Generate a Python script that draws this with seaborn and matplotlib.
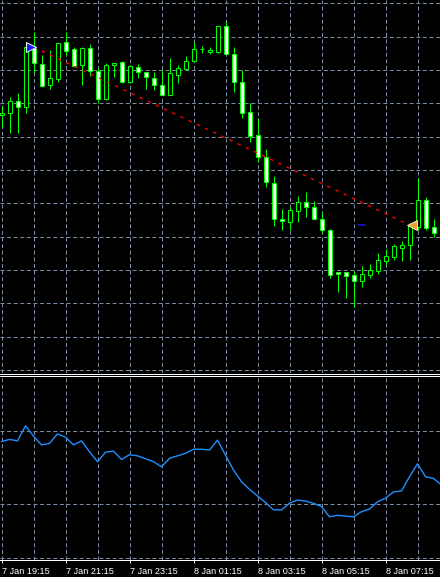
import matplotlib
matplotlib.use("Agg")
import matplotlib.pyplot as plt
import matplotlib.transforms as mtransforms
from matplotlib.lines import Line2D
import numpy as np
import pandas as pd
import seaborn as sns

# ── Data (M15 bars, bar 0 = 7 Jan 19:15) ───────────────────────────────────────
opens = [1.30765, 1.30771, 1.30807, 1.30789, 1.30969, 1.30918, 1.30855, 1.30873,
         1.30984, 1.30963, 1.30915, 1.30966, 1.30897, 1.30813, 1.30915, 1.30924,
         1.30864, 1.30909, 1.30894, 1.30876, 1.30855, 1.30825, 1.30885, 1.30903,
         1.30927, 1.30963, 1.30954, 1.30954, 1.31032, 1.30948, 1.30864, 1.30774,
         1.30705, 1.30639, 1.30561, 1.30453, 1.30444, 1.30477, 1.30504, 1.30489,
         1.30453, 1.30420, 1.30294, 1.30294, 1.30285, 1.30267, 1.30285, 1.30297,
         1.30327, 1.30339, 1.30366, 1.30375, 1.30429, 1.30510, 1.30429, 1.30354]
highs = [1.30792, 1.30819, 1.30831, 1.30978, 1.31014, 1.30945, 1.30960, 1.30981,
         1.31014, 1.30969, 1.30969, 1.30978, 1.30906, 1.30921, 1.30921, 1.30927,
         1.30915, 1.30918, 1.30894, 1.30894, 1.30900, 1.30936, 1.30915, 1.30942,
         1.30984, 1.30972, 1.30969, 1.31032, 1.31047, 1.30969, 1.30900, 1.30801,
         1.30756, 1.30663, 1.30582, 1.30483, 1.30489, 1.30522, 1.30534, 1.30507,
         1.30474, 1.30423, 1.30294, 1.30294, 1.30297, 1.30312, 1.30318, 1.30351,
         1.30363, 1.30378, 1.30387, 1.30441, 1.30576, 1.30519, 1.30453, 1.30420]
lows = [1.30729, 1.30711, 1.30711, 1.30771, 1.30891, 1.30849, 1.30843, 1.30864,
        1.30945, 1.30909, 1.30855, 1.30882, 1.30801, 1.30810, 1.30879, 1.30861,
        1.30861, 1.30876, 1.30843, 1.30840, 1.30825, 1.30825, 1.30861, 1.30903,
        1.30924, 1.30951, 1.30948, 1.30951, 1.30948, 1.30834, 1.30756, 1.30684,
        1.30624, 1.30549, 1.30432, 1.30420, 1.30420, 1.30444, 1.30459, 1.30453,
        1.30411, 1.30276, 1.30234, 1.30216, 1.30189, 1.30249, 1.30276, 1.30288,
        1.30315, 1.30330, 1.30327, 1.30330, 1.30420, 1.30420, 1.30399, 1.30345]
closes = [1.30771, 1.30807, 1.30789, 1.30969, 1.30921, 1.30852, 1.30876, 1.30981,
          1.30957, 1.30912, 1.30966, 1.30897, 1.30813, 1.30915, 1.30921, 1.30864,
          1.30912, 1.30894, 1.30879, 1.30855, 1.30825, 1.30891, 1.30906, 1.30927,
          1.30963, 1.30963, 1.30960, 1.31032, 1.30948, 1.30864, 1.30771, 1.30702,
          1.30639, 1.30564, 1.30453, 1.30447, 1.30480, 1.30504, 1.30489, 1.30453,
          1.30420, 1.30285, 1.30288, 1.30282, 1.30267, 1.30288, 1.30300, 1.30330,
          1.30342, 1.30372, 1.30375, 1.30432, 1.30510, 1.30426, 1.30411, 1.30411]

indicator = [57.1, 57.7, 57.3, 61.4, 58.6, 56.2, 56.6, 59.2, 58.3, 56.2, 57.3, 54.3,
             51.6, 54.2, 54.5, 52.2, 53.5, 53.2, 52.4, 51.6, 50.2, 52.5, 53.2, 53.9,
             55.0, 55.0, 54.8, 57.5, 53.4, 49.3, 46.1, 44.0, 42.2, 40.4, 38.4, 38.4,
             40.2, 41.1, 40.8, 40.2, 39.3, 36.5, 36.9, 36.7, 36.5, 37.9, 38.6, 40.6,
             41.6, 43.3, 43.6, 47.5, 51.0, 47.5, 47.0, 45.2]

tick_bars = [0, 8, 16, 24, 32, 40, 48]
tick_labels = ["7 Jan 19:15", "7 Jan 21:15", "7 Jan 23:15", "8 Jan 01:15",
               "8 Jan 03:15", "8 Jan 05:15", "8 Jan 07:15"]
grid_bars = list(range(0, 56, 4))
price_levels = [1.3000, 1.3010, 1.3020, 1.3030, 1.3040, 1.3050,
                1.3060, 1.3070, 1.3080, 1.3090, 1.3100, 1.3110]
ind_levels = [40, 60]

# trade: open bar / price, close bar / price
trade_bars = [4, 51]
trade_prices = [1.30969, 1.30435]
stop_bar_span = [44.6, 45.5]
stop_price = 1.30435

# ── Style ─────────────────────────────────────────────────────────────────────
BG = "black"
CANDLE = "#00ff00"
GRID = "#7a8aa0"
PX = 0.72  # one pixel in points at dpi 100

sns.set_theme(style="dark", rc={
    "figure.facecolor": BG, "axes.facecolor": BG, "savefig.facecolor": BG,
    "axes.edgecolor": "white", "text.color": "white",
    "xtick.color": "white", "ytick.color": "white",
})
plt.rcParams["font.family"] = ["Liberation Sans", "DejaVu Sans"]

df = pd.DataFrame({"bar": np.arange(len(opens)), "open": opens, "high": highs,
                   "low": lows, "close": closes, "ind": indicator})

fig = plt.figure(figsize=(4.4, 5.77), dpi=100)
H = 577.0
ax = fig.add_axes([0, 1 - 373 / H, 1, 373 / H])
ax2 = fig.add_axes([0, 1 - 560 / H, 1, 184 / H])

# 8 px per bar; bar centres fall on pixel centres
xlim = (-0.1875, 54.8125)
dash = (0, (4, 2.6))

for a in (ax, ax2):
    a.set_xlim(*xlim)
    for s in a.spines.values():
        s.set_visible(False)
    a.set_yticks([])
    a.vlines(grid_bars, 0, 1, transform=a.get_xaxis_transform(),
             colors=GRID, lw=PX, linestyles=dash, zorder=1)

# ── Main pane: candles ────────────────────────────────────────────────────────
ax.set_ylim(1.29991, 1.31110)
ax.hlines(price_levels, *xlim, colors=GRID, lw=PX, linestyles=dash, zorder=1)

ax.vlines(df["bar"], df["low"], df["high"], colors=CANDLE, lw=PX, zorder=2)
body_lo = df[["open", "close"]].min(axis=1)
body_h = (df["close"] - df["open"]).abs().clip(lower=1e-7)
fills = np.where(df["close"] < df["open"], "white", BG)
ax.bar(df["bar"], body_h, bottom=body_lo, width=0.5, color=fills,
       edgecolor=CANDLE, linewidth=PX, zorder=3)

# trade line and arrows
ax.plot(trade_bars, trade_prices, color="#ff0000", lw=1.0,
        linestyle=(0, (2.5, 4)), zorder=4)
ax.hlines(stop_price, *stop_bar_span, colors="#1515d0", lw=1.2, zorder=4)
off_l = mtransforms.ScaledTranslation(-2.5 / 100, 0, fig.dpi_scale_trans)
off_r = mtransforms.ScaledTranslation(2 / 100, 0, fig.dpi_scale_trans)
ax.plot(trade_bars[0], trade_prices[0], marker=">", ms=7, mfc="#1a1aff",
        mec="white", mew=0.7, transform=ax.transData + off_l, zorder=5)
ax.plot(trade_bars[1], trade_prices[1], marker="<", ms=7, mfc="#e8a030",
        mec="white", mew=0.6, transform=ax.transData + off_r, zorder=5)
ax.set_xticks([])

# ── Indicator pane ────────────────────────────────────────────────────────────
ax2.set_ylim(24.66, 75.07)
ax2.hlines(ind_levels, *xlim, colors=GRID, lw=PX, linestyles=dash, zorder=1)
ax2.axhline(25.1, color=GRID, lw=PX, linestyle=dash, zorder=1)
sns.lineplot(data=df, x="bar", y="ind", ax=ax2, color="#1e90ff", lw=1.0, zorder=3)
ax2.set_xlabel("")
ax2.set_ylabel("")
ax2.spines["bottom"].set_visible(True)
ax2.spines["bottom"].set_color("white")
ax2.spines["bottom"].set_linewidth(PX)
ax2.set_xticks(tick_bars)
ax2.set_xticklabels(tick_labels, ha="left", fontsize=6.6)
ax2.tick_params(axis="x", length=2.5, width=PX, pad=2.2, color="white",
                labelcolor="white", bottom=True)
ax2.set_xlim(*xlim)

# window separator (double white line)
for yy in (373.5, 375.5):
    fig.add_artist(Line2D([0, 1], [1 - yy / H, 1 - yy / H], transform=fig.transFigure,
                          color="white", lw=PX))

fig.savefig("out.png", dpi=100, facecolor=BG)
